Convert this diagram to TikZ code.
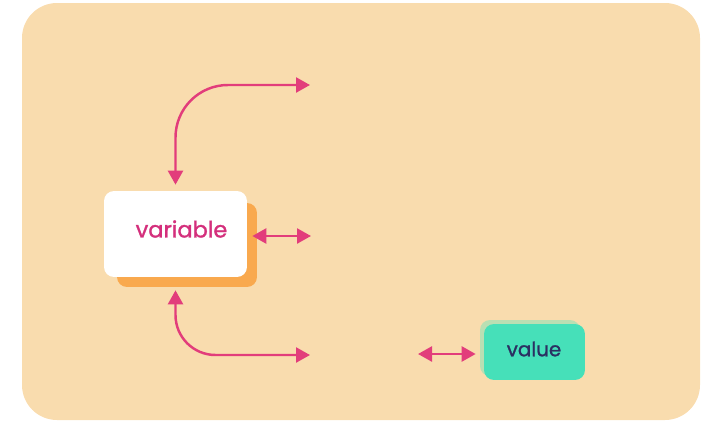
\documentclass[tikz,border=0pt]{standalone}
\usepackage{fontspec}
\setmainfont{Poppins}
\newfontfamily\cardfont{Poppins}[FakeBold=1.2]
\usetikzlibrary{arrows.meta}
\definecolor{sand}{HTML}{F9DCAE}
\definecolor{linkpink}{HTML}{E23D7B}
\definecolor{varpink}{HTML}{D42F7C}
\definecolor{shadeorange}{HTML}{F9A94E}
\definecolor{valteal}{HTML}{46E0B9}
\definecolor{shadeteal}{HTML}{B9DFB3}
\definecolor{valnavy}{HTML}{2B3062}

\begin{document}
\begin{tikzpicture}[x=0.02cm, y=-0.02cm,
	every node/.style={font=\cardfont\fontsize{12}{14}\selectfont},
	card/.style={rounded corners=0.2cm, inner sep=0pt},
	link/.style={draw=linkpink, line width=1.4pt, {Triangle[length=0.28cm,width=0.3cm]}-{Triangle[length=0.28cm,width=0.3cm]}}]
	\useasboundingbox (0,0) rectangle (707,423);
	\fill[sand, rounded corners=0.7cm] (22,3) rectangle (700,420);
	% variable card and its shadow
	\node[card, fill=shadeorange, minimum width=2.8cm, minimum height=1.68cm] (varshade) at (187,245) {};
	\node[card, fill=white, minimum width=2.86cm, minimum height=1.72cm] (var) at (175.5,234) {};
	\node[text=varpink, font=\cardfont\fontsize{12.8}{14}\selectfont] (vartext) at (181.5,229) {variable};
	% value card and its shadow
	\node[card, fill=shadeteal, minimum width=2cm, minimum height=1.12cm] (valshade) at (530,348) {};
	\node[card, fill=valteal, minimum width=2.02cm, minimum height=1.12cm] (val) at (534.5,352) {};
	\node[text=valnavy, font=\cardfont\fontsize{11.3}{13}\selectfont] (valtext) at (534,349) {value};
	% free ends
	\coordinate (topend) at (310,85);
	\coordinate (midend) at (311,236);
	\coordinate (lowend) at (310,355);
	\coordinate (valend) at (418,354);
	% links
	\draw[link, rounded corners=1.05cm, shorten <=0.12cm] (var.north) |- (topend);
	\draw[link, shorten <=0.1cm] (var.east |- midend) -- (midend);
	\draw[link, rounded corners=0.8cm, shorten <=0.26cm] (var.south) |- (lowend);
	\draw[link, shorten >=0.08cm] (valend) -- (valshade.west |- valend);
\end{tikzpicture}
\end{document}
